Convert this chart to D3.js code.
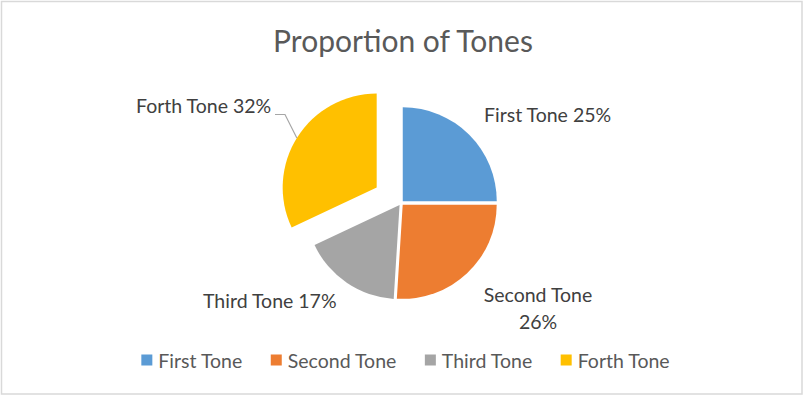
<!DOCTYPE html>
<html>
<head>
<meta charset="utf-8">
<script src="https://cdn.jsdelivr.net/npm/d3@7"></script>
<style>
  body { margin: 0; background: #fff; }
  text { font-family: Lato, "Noto Sans", sans-serif; }
</style>
</head>
<body>
<div id="chart"></div>
<script>
// Chart data
var tones = ["First Tone", "Second Tone", "Third Tone", "Forth Tone"];
var shares = [25, 26, 17, 32];
var toneColors = ["#5b9bd5", "#ed7d31", "#a5a5a5", "#ffc000"];

// SVG area
var svgWidth = 805;
var svgHeight = 396;

var svg = d3.select("#chart")
  .append("svg")
  .attr("width", svgWidth)
  .attr("height", svgHeight);

// chart border
svg.append("rect")
  .attr("x", 1.5)
  .attr("y", 1.5)
  .attr("width", 800.5)
  .attr("height", 392.5)
  .attr("fill", "#fff")
  .attr("stroke", "#d9d9d9")
  .attr("stroke-width", 1.5);

// Title
svg.append("text")
  .attr("x", 403)
  .attr("y", 52)
  .attr("text-anchor", "middle")
  .attr("font-size", "30px")
  .attr("fill", "#595959")
  .text("Proportion of Tones");

// Pie
var radius = 94;
var center = [401, 203];
// exploded distance per slice
var explode = [2.5, 2.5, 2.5, 28.8];

var pie = d3.pie().sort(null).value(d => d.value);
var arc = d3.arc().innerRadius(0).outerRadius(radius);

var pieData = pie(tones.map((t, i) => ({ name: t, value: shares[i], idx: i })));

var pieGroup = svg.append("g")
  .attr("transform", `translate(${center[0]}, ${center[1]})`);

function offset(d) {
  var mid = (d.startAngle + d.endAngle) / 2;
  var e = explode[d.data.idx];
  return [Math.sin(mid) * e, -Math.cos(mid) * e];
}

pieGroup.selectAll("path")
  .data(pieData)
  .enter()
  .append("path")
  .attr("d", arc)
  .attr("transform", d => `translate(${offset(d)[0]}, ${offset(d)[1]})`)
  .attr("fill", (d, i) => toneColors[i]);

// Data labels
var labelColor = "#404040";
var labelSize = "19.5px";

var labelPos = [
  { x: 484, y: 122, anchor: "start" },
  { x: 538, y: 302, anchor: "middle" },
  { x: 203, y: 307.5, anchor: "start" },
  { x: 136, y: 113, anchor: "start" }
];

labelPos.forEach(function(p, i) {
  var pct = shares[i] + "%";
  var txt = i === 1 ? [tones[i], pct] : [tones[i] + " " + pct];
  var t = svg.append("text")
    .attr("x", p.x)
    .attr("y", p.y)
    .attr("text-anchor", p.anchor)
    .attr("font-size", labelSize)
    .attr("fill", labelColor);
  txt.forEach(function(line, j) {
    t.append("tspan")
      .attr("x", p.x)
      .attr("dy", j === 0 ? 0 : 26.5)
      .text(line);
  });
});

// leader line for the fourth label
var yellow = pieData[3];
var yOff = offset(yellow);
var leaderAngle = -1.015;
var endX = center[0] + yOff[0] + Math.sin(leaderAngle) * radius;
var endY = center[1] + yOff[1] - Math.cos(leaderAngle) * radius;
svg.append("polyline")
  .attr("points", `275,114.5 285,114.5 ${endX},${endY}`)
  .attr("fill", "none")
  .attr("stroke", "#a6a6a6")
  .attr("stroke-width", 1.2);

// Legend
var legend = svg.append("g");
var legendY = 361;
var sq = 11;
var items = legend.selectAll("g")
  .data(tones)
  .enter()
  .append("g");

items.append("rect")
  .attr("width", sq)
  .attr("height", sq)
  .attr("y", legendY - sq / 2 - 1)
  .attr("fill", (d, i) => toneColors[i]);

items.append("text")
  .attr("x", sq + 6)
  .attr("y", legendY + 6.5)
  .attr("font-size", "19.5px")
  .attr("fill", "#595959")
  .text(d => d);

// lay items out in a row, centred
var xPos = 0;
var widths = [];
items.each(function() {
  var w = sq + 6 + d3.select(this).select("text").node().getComputedTextLength();
  widths.push(w);
});
var gap = 28.5;
var total = d3.sum(widths) + gap * (widths.length - 1);
xPos = 405.5 - total / 2;
items.attr("transform", function(d, i) {
  var x = xPos;
  xPos += widths[i] + gap;
  return `translate(${x}, 0)`;
});
</script>
</body>
</html>
